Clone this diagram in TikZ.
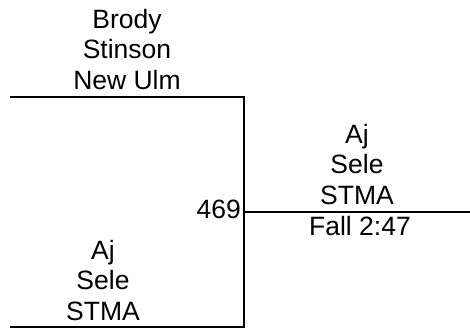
\documentclass[tikz,border=0pt]{standalone}
\usepackage{fontspec}
\setmainfont{Liberation Sans}
\usetikzlibrary{positioning}

\begin{document}
\begin{tikzpicture}[
  x=1pt, y=-1pt,
  team/.style={align=center, inner sep=0pt, anchor=north,
               font=\fontsize{26.5}{30.5}\selectfont},
  seed/.style={inner sep=0pt, anchor=base east,
               font=\fontsize{26.5}{30.5}\selectfont},
  bracket/.style={line width=2pt, black}
]
\useasboundingbox (0,0) rectangle (470,327);

% bracket corners
\coordinate (tl) at (10,97);
\coordinate (tr) at (244,97);
\coordinate (bl) at (10,327);
\coordinate (br) at (244,327);
\coordinate (wl) at (244,212);
\coordinate (wr) at (471,212);

\node[team] (top)    at (127,9)   {Brody\\Stinson\\New Ulm};
\node[team] (bottom) at (103,240) {Aj\\Sele\\STMA};
\node[team] (winner) at (357,124) {Aj\\Sele\\STMA};
\node[team] (result) at (360,216) {Fall 2:47};
\node[seed] (num)    at (241,218) {469};

\draw[bracket] (tl) -- (tr) -- (br) -- (bl);
\draw[bracket] (wl) -- (wr);
\end{tikzpicture}
\end{document}
